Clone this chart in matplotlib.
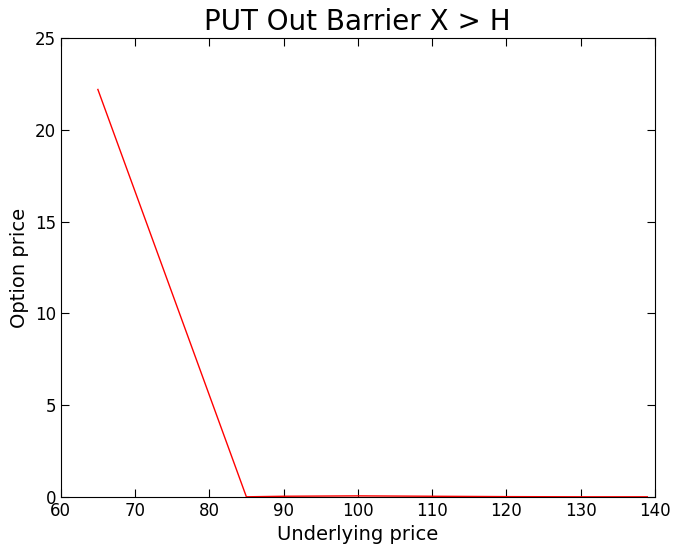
import matplotlib
matplotlib.use("Agg")
import matplotlib.pyplot as plt

underlying = [65, 85, 90, 100, 110, 120, 130, 139]
price = [22.2, 0.0, 0.03, 0.05, 0.03, 0.01, 0.0, 0.0]

fig = plt.figure(figsize=(6.75, 5.52), dpi=100)
ax = fig.add_axes([0.09, 0.1, 0.88, 0.831])

ax.plot(underlying, price, color='red', linewidth=1)

ax.set_xlim(60, 140)
ax.set_ylim(0, 25)
ax.set_xticks(range(60, 141, 10))
ax.set_yticks(range(0, 26, 5))
ax.tick_params(direction='in', top=True, right=True, length=6, labelsize=12)
ax.set_xlabel("Underlying price", fontsize=14)
ax.set_ylabel("Option price", fontsize=14)
ax.set_title("PUT Out Barrier X > H", fontsize=20)

fig.savefig("out.png", dpi=100)
